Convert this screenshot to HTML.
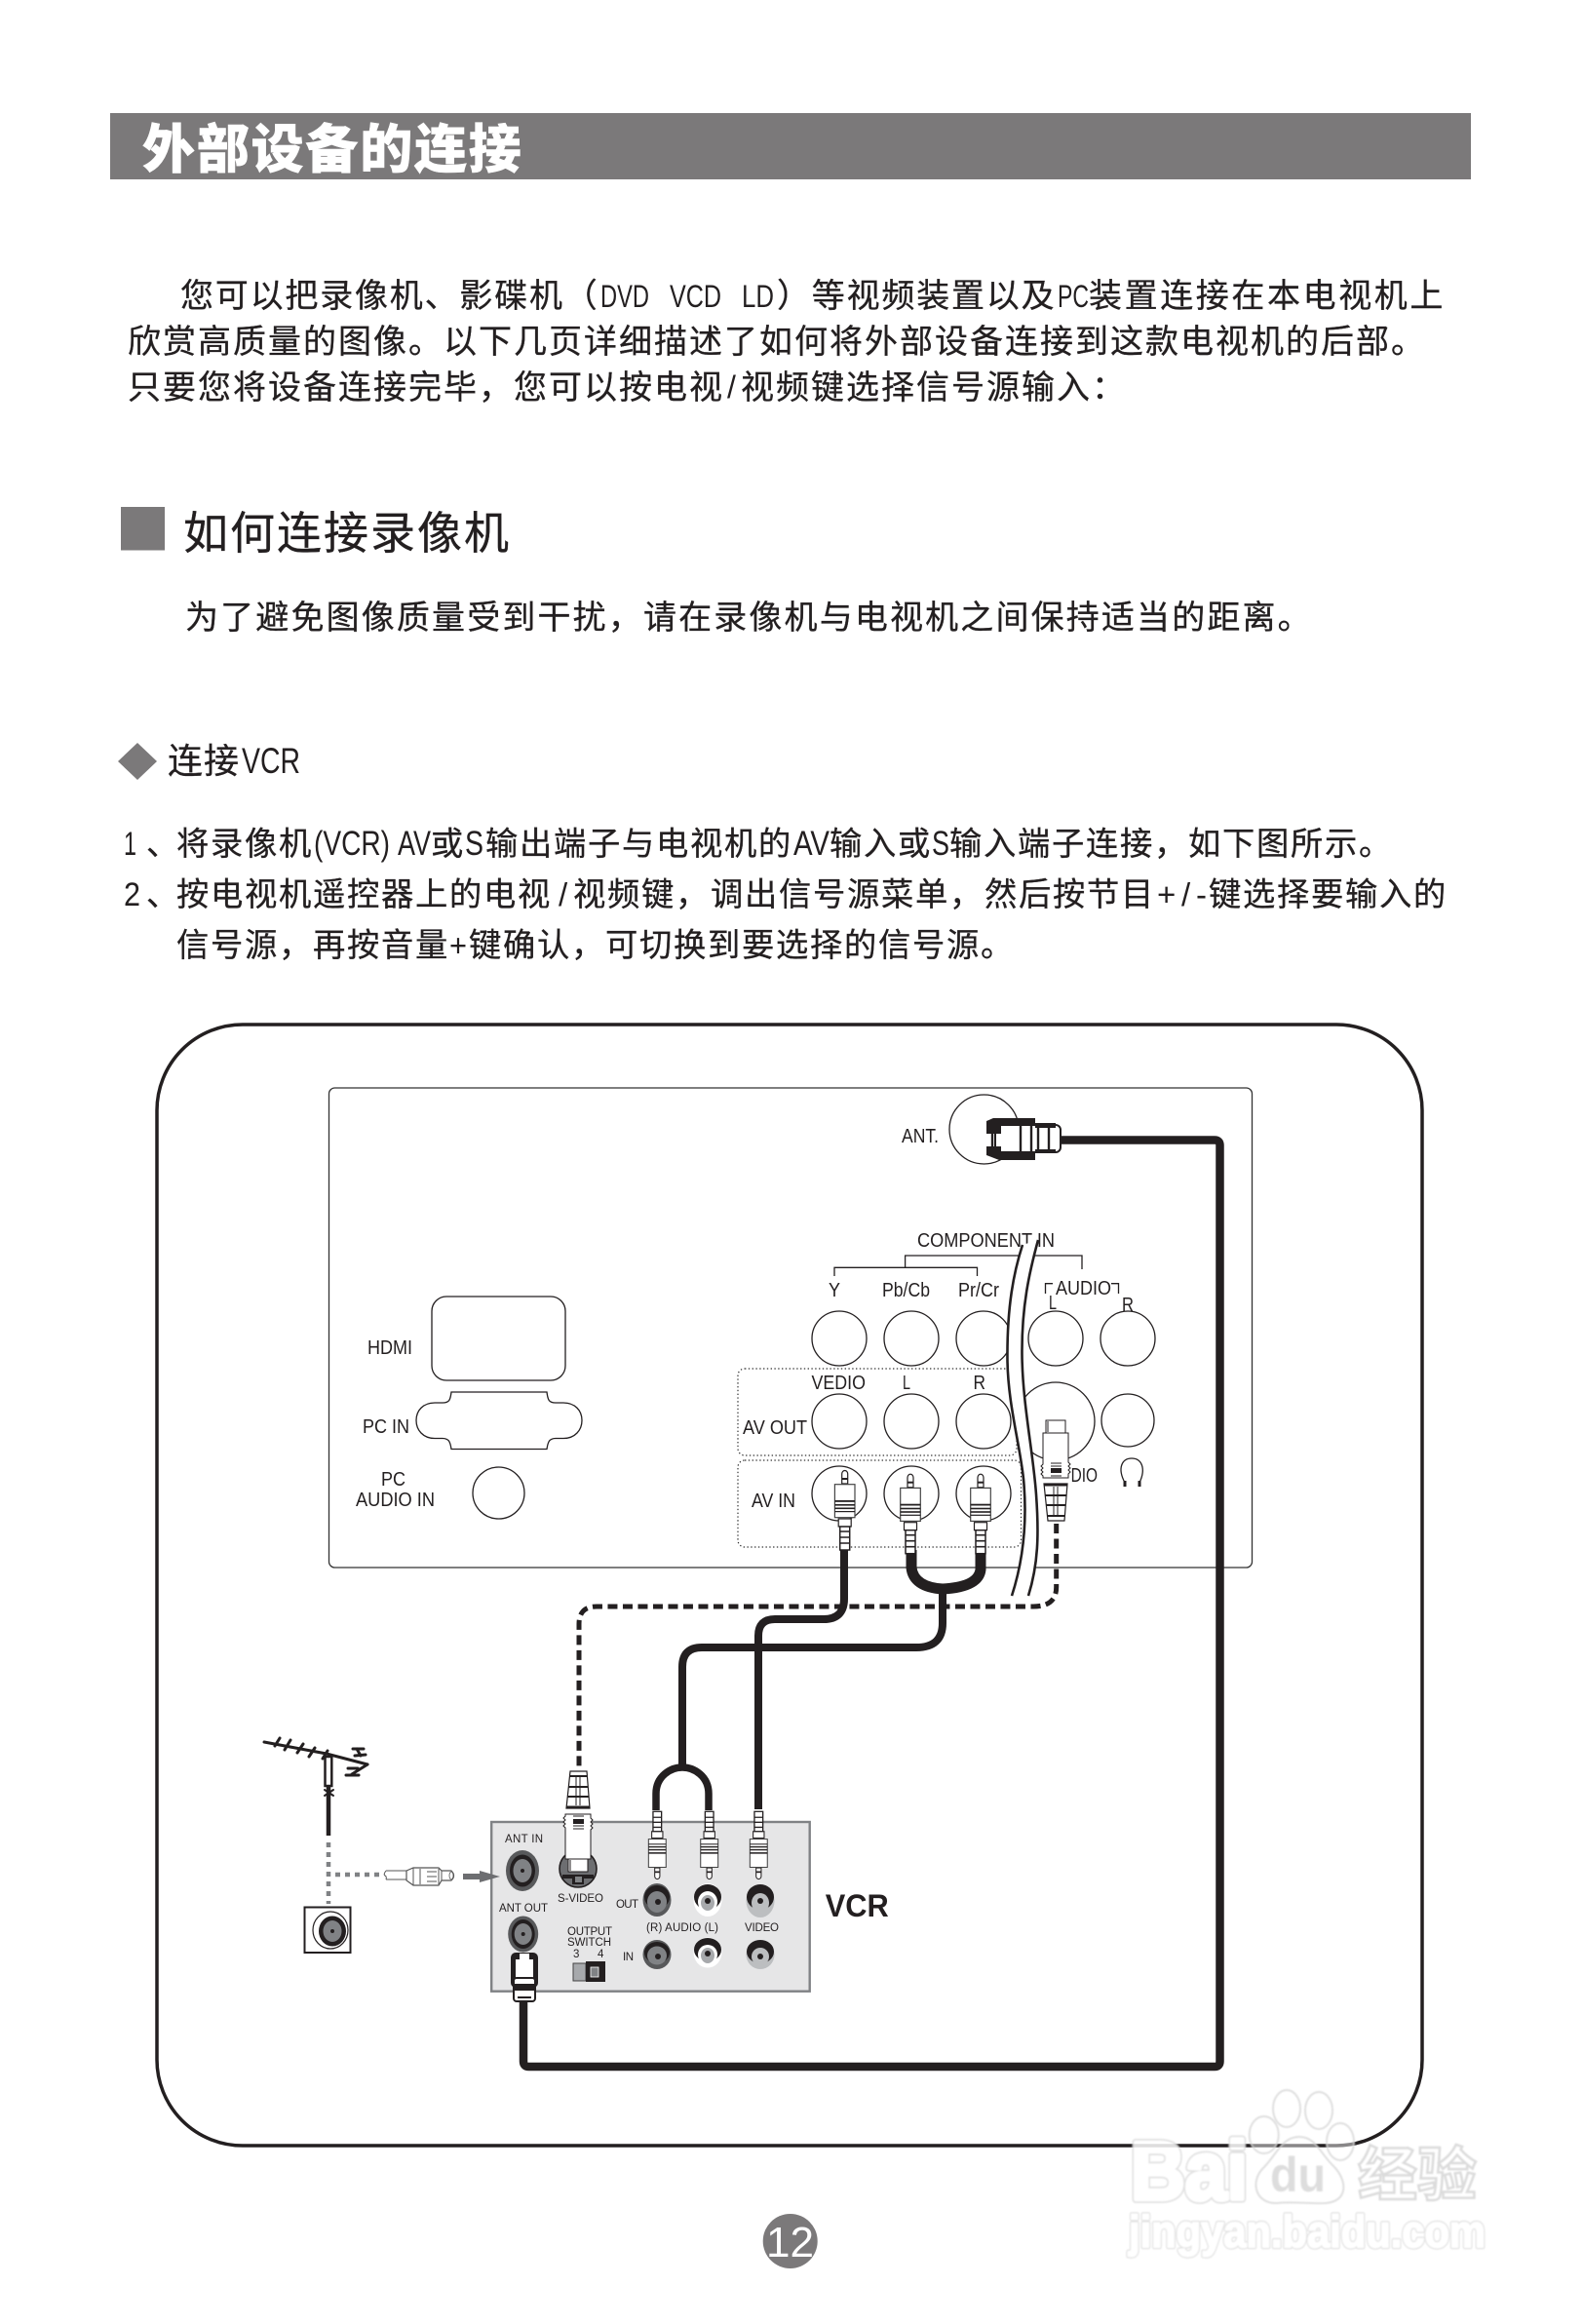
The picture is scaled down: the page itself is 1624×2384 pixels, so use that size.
<!DOCTYPE html>
<html lang="zh-CN"><head><meta charset="utf-8"><title>外部设备的连接</title>
<style>
html,body{margin:0;padding:0;background:#fff}
svg{display:block}
.c{font-family:"Liberation Sans","Noto Sans CJK SC",sans-serif;fill:#231f20;stroke:#231f20;stroke-width:.3px}
.b{font-size:34px;letter-spacing:1.8px}
.l{font-size:33.3px;letter-spacing:1.7px}
.a{font-family:"Liberation Sans",sans-serif;fill:#231f20}
.t{font-size:20px}
.v{font-size:11.5px}
.w{fill:none;stroke:#231f20;stroke-width:1.3}
</style></head><body>
<svg xmlns="http://www.w3.org/2000/svg" width="1624" height="2384" viewBox="0 0 1624 2384">
<defs>
<filter id="soft" x="-5%" y="-5%" width="110%" height="110%"><feGaussianBlur stdDeviation=".7"/></filter>
<g id="rca">
<path d="M-3,14V4a3,3.5 0 0 1 6,0V14Z" fill="#fff" stroke="#231f20" stroke-width="1.2"/>
<rect x="-3" y="8" width="6" height="2" fill="#231f20"/>
<rect x="-10.3" y="14.7" width="20.6" height="34" fill="#fff" stroke="#444" stroke-width="1.2"/>
<rect x="-10.3" y="31" width="20.6" height="1.8" fill="#231f20"/><rect x="-10.3" y="35" width="20.6" height="1.6" fill="#231f20"/><rect x="-10.3" y="38.5" width="20.6" height="1.6" fill="#231f20"/><rect x="-10.3" y="42" width="20.6" height="1.2" fill="#231f20"/>
<rect x="-6.5" y="50" width="13" height="8" fill="#fff" stroke="#231f20" stroke-width="1.2"/>
<rect x="-5" y="58" width="10" height="24" fill="#fff" stroke="#231f20" stroke-width="1.5"/>
<path d="M-5,63H5M-5,69H5M-5,75H5" stroke="#231f20" stroke-width="1.6"/>
</g>
<g id="splug">
<rect x="-10" y="0" width="20" height="13" fill="#fff" stroke="#231f20" stroke-width="1"/>
<path d="M-8,1V12" stroke="#231f20" stroke-width="1"/>
<path d="M-13,13H13V43l2,2-2,2 2,2-2,2 2,2-2,2 0,4H-13V57l-2-2 2-2-2-2 2-2-2-2 2-2Z" fill="#fff" stroke="#231f20" stroke-width="1"/>
<path d="M-5,44H6M-5,47H6" stroke="#231f20" stroke-width="1"/><rect x="-5" y="49" width="11" height="5" fill="#231f20"/><path d="M-5,57H6" stroke="#231f20" stroke-width="1"/>
<path d="M-12,65H12L9,103H-8Z" fill="#fff" stroke="#231f20" stroke-width="1.2"/>
<path d="M-12,65H12L11.7,67.5H-11.7ZM-11,76H11L10.8,78H-10.9ZM-10,86H10L9.9,88H-9.9ZM-9,97H9.2L9,99H-8.6Z" fill="#231f20"/>
<path d="M-2,68V76M2,68V76M-2,78V86M2,78V86M-2,88V97M2,88V97" stroke="#231f20" stroke-width="1"/>
</g>
</defs>

<!-- header -->
<rect x="113" y="116" width="1396" height="68" fill="#7b797a"/>
<text x="146" y="172" font-size="54" font-weight="900" letter-spacing="1.8" stroke="#fff" stroke-width=".5" style="font-family:'Noto Sans CJK SC',sans-serif;fill:#fff">外部设备的连接</text>

<!-- intro -->
<text class="c b" x="185" y="315">您可以把录像机、影碟机（</text>
<text class="a" x="616" y="315" font-size="32" textLength="50" lengthAdjust="spacingAndGlyphs">DVD</text>
<text class="a" x="687" y="315" font-size="32" textLength="53" lengthAdjust="spacingAndGlyphs">VCD</text>
<text class="a" x="761" y="315" font-size="32" textLength="33" lengthAdjust="spacingAndGlyphs">LD</text>
<text class="c b" x="797" y="315">）等视频装置以及</text>
<text class="a" x="1085" y="315" font-size="32" textLength="32" lengthAdjust="spacingAndGlyphs">PC</text>
<text class="c b" x="1117" y="315" style="letter-spacing:2.6px">装置连接在本电视机上</text>
<text class="c b" x="131" y="362" style="letter-spacing:2px">欣赏高质量的图像。以下几页详细描述了如何将外部设备连接到这款电视机的后部。</text>
<text class="c b" x="131" y="409" style="letter-spacing:2px">只要您将设备连接完毕，您可以按电视</text>
<text class="a" x="746" y="408" font-size="32">/</text>
<text class="c b" x="760" y="409" style="letter-spacing:2px">视频键选择信号源输入：</text>

<!-- section -->
<rect x="124" y="520" width="45" height="44.5" fill="#7b797a"/>
<text class="c" x="188" y="563" font-size="46" letter-spacing="2">如何连接录像机</text>
<text class="c b" x="190" y="645" style="letter-spacing:2.15px">为了避免图像质量受到干扰，请在录像机与电视机之间保持适当的距离。</text>

<polygon points="141,762 161,781 141,800 121,781" fill="#7b797a"/>
<text class="c" x="172" y="793" font-size="36" letter-spacing="1">连接</text>
<text class="a" x="248" y="793" font-size="37" textLength="60" lengthAdjust="spacingAndGlyphs">VCR</text>

<!-- list -->
<text class="a" x="127" y="877" font-size="34" textLength="13" lengthAdjust="spacingAndGlyphs">1</text>
<text class="c l" x="150" y="877">、</text>
<text class="c l" x="181" y="877">将录像机</text>
<text class="a" x="322" y="877" font-size="35" textLength="78" lengthAdjust="spacingAndGlyphs">(VCR)</text>
<text class="a" x="408" y="877" font-size="35" textLength="34" lengthAdjust="spacingAndGlyphs">AV</text>
<text class="c l" x="442" y="877">或</text>
<text class="a" x="477" y="877" font-size="35" textLength="19" lengthAdjust="spacingAndGlyphs">S</text>
<text class="c l" x="498" y="877">输出端子与电视机的</text>
<text class="a" x="814" y="877" font-size="35" textLength="37" lengthAdjust="spacingAndGlyphs">AV</text>
<text class="c l" x="851" y="877">输入或</text>
<text class="a" x="956" y="877" font-size="35" textLength="18" lengthAdjust="spacingAndGlyphs">S</text>
<text class="c l" x="974" y="877">输入端子连接，如下图所示。</text>

<text class="a" x="127" y="929" font-size="34" textLength="17" lengthAdjust="spacingAndGlyphs">2</text>
<text class="c l" x="150" y="929">、</text>
<text class="c l" x="181" y="929">按电视机遥控器上的电视</text>
<text class="a" x="573" y="929" font-size="33">/</text>
<text class="c l" x="588" y="929">视频键，</text>
<text class="c l" x="729" y="929">调出信号源菜单，</text>
<text class="c l" x="1010" y="929">然后按节目</text>
<text class="a" x="1187" y="929" font-size="33" textLength="51" lengthAdjust="spacing">+/-</text>
<text class="c l" x="1240" y="929">键选择要输入的</text>

<text class="c l" x="181" y="981">信号源，再按音量</text>
<text class="a" x="461" y="981" font-size="32" textLength="18" lengthAdjust="spacingAndGlyphs">+</text>
<text class="c l" x="481" y="981">键确认，可切换到要选择的信号源。</text>

<!-- diagram frame -->
<rect x="161" y="1051" width="1298" height="1150" rx="88" ry="88" fill="#fff" stroke="#231f20" stroke-width="3.5"/>

<!-- TV panel -->
<rect x="337.5" y="1116" width="947" height="492" rx="6" fill="#fff" stroke="#333" stroke-width="1.3"/>
<rect x="443" y="1330" width="137" height="86" rx="15" class="w"/>
<path class="w" d="M463,1428H561C562,1436 563,1439 570,1439H578C590,1439 597,1447 597,1457C597,1467 590,1475.5 578,1475.5H570C563,1475.5 562,1480 561,1486.5H463C462,1480 461,1475.5 454,1475.5H446C434,1475.5 427,1467 427,1457C427,1447 434,1439 446,1439H454C461,1439 462,1436 463,1428Z"/>
<circle class="w" cx="511.5" cy="1531.5" r="26.5"/>
<text class="a t" x="377" y="1389" textLength="46" lengthAdjust="spacingAndGlyphs">HDMI</text>
<text class="a t" x="372" y="1470" textLength="48" lengthAdjust="spacingAndGlyphs">PC IN</text>
<text class="a t" x="391" y="1524" textLength="25" lengthAdjust="spacingAndGlyphs">PC</text>
<text class="a t" x="365" y="1545" textLength="81" lengthAdjust="spacingAndGlyphs">AUDIO IN</text>

<!-- dotted groups -->
<rect x="757" y="1404" width="286" height="89" rx="7" fill="none" stroke="#333" stroke-width="1.2" stroke-dasharray="1.4 2.4"/>
<rect x="757" y="1498" width="290.5" height="89" rx="7" fill="none" stroke="#333" stroke-width="1.2" stroke-dasharray="1.4 2.4"/>

<circle class="w" cx="1009.5" cy="1158.5" r="35.5"/>
<text class="a t" x="925" y="1172" textLength="38" lengthAdjust="spacingAndGlyphs">ANT.</text>
<text class="a t" x="941" y="1279" textLength="141" lengthAdjust="spacingAndGlyphs">COMPONENT IN</text>
<path class="w" d="M928.6,1300V1288H1110V1302M856,1309V1300.3H1002.5V1309"/>
<text class="a t" x="850" y="1330" textLength="12" lengthAdjust="spacingAndGlyphs">Y</text>
<text class="a t" x="905" y="1330" textLength="49" lengthAdjust="spacingAndGlyphs">Pb/Cb</text>
<text class="a t" x="983" y="1330" textLength="42" lengthAdjust="spacingAndGlyphs">Pr/Cr</text>
<text class="a t" x="1083" y="1328" textLength="57" lengthAdjust="spacingAndGlyphs">AUDIO</text>
<path class="w" d="M1072.5,1327V1316.7H1080M1140,1316.7H1147.5V1327"/>
<text class="a t" x="1076" y="1343" textLength="8" lengthAdjust="spacingAndGlyphs">L</text>
<text class="a t" x="1151" y="1345" textLength="12" lengthAdjust="spacingAndGlyphs">R</text>
<text class="a t" x="832.5" y="1425" textLength="55.5" lengthAdjust="spacingAndGlyphs">VEDIO</text>
<text class="a t" x="926" y="1425" textLength="8" lengthAdjust="spacingAndGlyphs">L</text>
<text class="a t" x="998.5" y="1425" textLength="12.5" lengthAdjust="spacingAndGlyphs">R</text>
<text class="a t" x="762" y="1471" textLength="66" lengthAdjust="spacingAndGlyphs">AV OUT</text>
<text class="a t" x="771" y="1546" textLength="45" lengthAdjust="spacingAndGlyphs">AV IN</text>
<text class="a t" x="1098.6" y="1520" textLength="27.4" lengthAdjust="spacingAndGlyphs">DIO</text>

<!-- ports -->
<g class="w" fill="none">
<circle class="w" cx="861" cy="1373" r="28"/><circle class="w" cx="935" cy="1373" r="28"/><circle class="w" cx="1009" cy="1373" r="28"/><circle class="w" cx="1083" cy="1373" r="28"/><circle class="w" cx="1157" cy="1373" r="28"/>
<circle class="w" cx="861" cy="1458" r="28"/><circle class="w" cx="935" cy="1458" r="28"/><circle class="w" cx="1009" cy="1458" r="28"/>
<circle class="w" cx="1083" cy="1458" r="40"/><circle class="w" cx="1157" cy="1457" r="27"/>
<circle class="w" cx="861" cy="1532" r="28"/><circle class="w" cx="935" cy="1532" r="28"/><circle class="w" cx="1009" cy="1532" r="28"/>
</g>
<path class="w" d="M1154,1521C1146,1506 1151,1496 1161,1496C1171,1496 1176,1506 1169,1521"/>
<rect x="1152.5" y="1519" width="3" height="6" fill="#231f20"/><rect x="1167.5" y="1519" width="3" height="6" fill="#231f20"/>

<!-- break band -->
<path d="M1049,1277C1040,1305 1033,1340 1033.5,1395C1034,1440 1046,1480 1050,1517C1054,1560 1050,1600 1038,1637L1055,1637C1065,1605 1066,1575 1063,1533C1060,1490 1049,1440 1048.5,1390C1048,1340 1056,1305 1065,1272Z" fill="#fff"/>
<path d="M1049,1277C1040,1305 1033,1340 1033.5,1395C1034,1440 1046,1480 1050,1517C1054,1560 1050,1600 1038,1637" fill="none" stroke="#231f20" stroke-width="2.6"/>
<path d="M1065,1272C1056,1305 1048,1340 1048.5,1390C1049,1440 1060,1490 1063,1533C1066,1575 1065,1605 1055,1637" fill="none" stroke="#231f20" stroke-width="2.6"/>

<!-- cables -->
<path d="M1089,1169.5H1246Q1251.5,1169.5 1251.5,1175V2114.5Q1251.5,2120 1246,2120H542.5Q537,2120 537,2114.5V2045" fill="none" stroke="#231f20" stroke-width="8.5"/>
<path d="M1083.7,1563V1628Q1083.7,1648 1060,1648H612Q594,1648 594,1666V1816" fill="none" stroke="#231f20" stroke-width="5" stroke-dasharray="10 5.5"/>
<path d="M866,1590V1640Q866,1661 845,1661H795Q778,1661 778,1678V1856" fill="none" stroke="#231f20" stroke-width="8"/>
<path d="M935,1590V1608Q937,1628 967,1630Q1004,1628 1006,1610V1590" fill="none" stroke="#231f20" stroke-width="11"/>
<path d="M967,1630V1665Q967,1690 940,1690H720Q700,1690 700,1710V1815" fill="none" stroke="#231f20" stroke-width="8"/>
<path d="M673,1857V1840C673,1822 688,1813 700,1813C712,1813 727,1822 727,1840V1857" fill="none" stroke="#231f20" stroke-width="7.5"/>

<!-- TV plugs -->
<use href="#rca" transform="translate(866.7,1508)"/>
<use href="#rca" transform="translate(934,1511.7)"/>
<use href="#rca" transform="translate(1006,1511.7)"/>
<use href="#splug" transform="translate(1083,1457)"/>

<!-- ANT plug -->
<rect x="1021" y="1154" width="67" height="28" rx="5" fill="#fff" stroke="#231f20" stroke-width="2"/>
<path d="M1012,1150L1019,1147H1062V1155H1027V1163H1012ZM1012,1176H1027V1182H1062V1190H1025L1012,1185Z" fill="#231f20"/>
<path d="M1062,1152H1083V1157H1062ZM1062,1179H1083V1183H1062Z" fill="#231f20"/>
<path d="M1018,1160V1179M1047,1155V1183M1058,1155V1183M1065,1155V1183M1076,1155V1183" stroke="#231f20" stroke-width="2.4"/>

<!-- antenna -->
<g stroke="#231f20" fill="none" stroke-linecap="round">
<path d="M271,1787L335,1799L377,1810" stroke-width="3"/>
<path d="M287,1783L282,1791M298,1785L292,1795M311,1789L305,1798M323,1793L317,1802M336,1796L331,1804" stroke-width="3"/>
<path d="M362,1794H373M366,1794L370,1801M364,1801L375,1800M377,1810L361,1820M355,1821H368M357,1814H367" stroke-width="3"/>
<rect x="333.5" y="1802" width="6.8" height="30" stroke-width="2.5" fill="#fff"/>
<path d="M337,1832V1883" stroke-width="4.5" stroke-linecap="butt"/>
<path d="M333,1836L342,1842M342,1836L333,1842" stroke-width="2"/>
<path d="M337,1890V1953" stroke="#808285" stroke-width="4.5" stroke-dasharray="5 5" stroke-linecap="butt"/>
<path d="M344,1923H390" stroke="#808285" stroke-width="4.5" stroke-dasharray="5 5" stroke-linecap="butt"/>
</g>
<rect x="312.5" y="1956.5" width="47" height="46.5" fill="#fff" stroke="#231f20" stroke-width="2"/>
<ellipse cx="339" cy="1980" rx="18" ry="19" fill="none" stroke="#231f20" stroke-width="1.2"/>
<ellipse cx="341" cy="1981" rx="14" ry="15.5" fill="#231f20"/>
<ellipse cx="341" cy="1981" rx="9.5" ry="11" fill="#808285"/>
<circle cx="341" cy="1981" r="2" fill="#231f20"/>

<!-- coax plug -->
<path d="M396,1919H417M396,1928H417M396,1919Q393,1923 395,1924T396,1928" fill="none" stroke="#555" stroke-width="1"/>
<path d="M417,1919L424,1916H450L453,1919H463Q468,1924 463,1929H453L450,1934H424L417,1929Z" fill="#fff" stroke="#555" stroke-width="1.2"/>
<path d="M424,1916V1934M431,1917V1933M438,1920H448M438,1925H448M438,1930H448M450,1917V1933M453,1919V1929" stroke="#555" stroke-width="1" fill="none"/>
<ellipse cx="463" cy="1924" rx="2" ry="4" fill="none" stroke="#555" stroke-width=".8"/>

<!-- VCR -->
<rect x="504.2" y="1869" width="326.5" height="173.7" fill="#e6e6e7" stroke="#808285" stroke-width="2.4"/>
<path d="M475,1922H492V1919L513,1925L492,1931V1928H475Z" fill="#6d6e71"/>
<text class="a v" x="518" y="1890" textLength="39" lengthAdjust="spacing">ANT IN</text>
<text class="a v" x="512" y="1961" textLength="50" lengthAdjust="spacing">ANT OUT</text>
<text class="a v" x="572" y="1951" textLength="47" lengthAdjust="spacing">S-VIDEO</text>
<text class="a v" x="632" y="1957" textLength="23" lengthAdjust="spacing">OUT</text>
<text class="a v" x="663" y="1981" textLength="74" lengthAdjust="spacing">(R) AUDIO (L)</text>
<text class="a v" x="764" y="1981" textLength="35" lengthAdjust="spacing">VIDEO</text>
<text class="a v" x="582" y="1985" textLength="46" lengthAdjust="spacing">OUTPUT</text>
<text class="a v" x="582" y="1996" textLength="45" lengthAdjust="spacing">SWITCH</text>
<text class="a v" x="588" y="2008">3</text><text class="a v" x="613" y="2008">4</text>
<text class="a v" x="639" y="2011" textLength="11" lengthAdjust="spacing">IN</text>

<ellipse cx="536" cy="1919" rx="17" ry="21" fill="#58595b"/><ellipse cx="536" cy="1919" rx="13" ry="16.5" fill="#231f20"/><ellipse cx="536" cy="1919" rx="9.5" ry="12" fill="#808285"/><circle cx="536" cy="1919" r="2" fill="#231f20"/>
<ellipse cx="536.7" cy="1984" rx="15.5" ry="18.5" fill="#58595b"/><ellipse cx="536.7" cy="1984" rx="12" ry="15" fill="#231f20"/><ellipse cx="536.7" cy="1984" rx="9" ry="11" fill="#808285"/><circle cx="536.7" cy="1984" r="2" fill="#231f20"/>

<!-- S socket -->
<circle cx="593" cy="1917" r="19" fill="#6d6e71" stroke="#231f20" stroke-width="1.6"/>
<path d="M577,1923H609V1927H599V1933H587V1927H577Z" fill="#231f20"/><rect x="590" y="1925" width="7" height="6" fill="#808285"/>
<use href="#splug" transform="translate(593,1920) scale(1,-1)"/>
<use href="#rca" transform="translate(674.3,1928) scale(.87,-.85)"/>
<use href="#rca" transform="translate(727.7,1928) scale(.87,-.85)"/>
<use href="#rca" transform="translate(778.3,1928) scale(.87,-.85)"/>

<!-- jacks -->
<g>
<g transform="translate(0,-3)">
<ellipse cx="674" cy="1952" rx="14.5" ry="17" fill="#58595b"/><ellipse cx="674" cy="1949" rx="13" ry="12" fill="#231f20"/><ellipse cx="674" cy="1954" rx="10" ry="11" fill="#808285"/><circle cx="675" cy="1954" r="3" fill="#231f20"/>
<ellipse cx="726" cy="1952" rx="14.5" ry="17" fill="#fff"/><ellipse cx="726" cy="1949" rx="14" ry="13" fill="#231f20"/><ellipse cx="726" cy="1954" rx="10" ry="11" fill="#fff"/><ellipse cx="726" cy="1955" rx="7" ry="8" fill="#a7a9ac"/><circle cx="726" cy="1953" r="3" fill="#231f20"/>
<ellipse cx="780" cy="1953" rx="14.5" ry="17" fill="#bcbec0"/><ellipse cx="780" cy="1949" rx="14" ry="13" fill="#231f20"/><ellipse cx="780" cy="1955" rx="9" ry="10" fill="#bcbec0"/><circle cx="780" cy="1953" r="3" fill="#231f20"/>
</g>
<ellipse cx="674" cy="2005" rx="14.5" ry="15" fill="#58595b"/><ellipse cx="674" cy="2003" rx="13" ry="11" fill="#231f20"/><ellipse cx="674" cy="2006" rx="10" ry="9.5" fill="#808285"/><circle cx="675" cy="2007" r="3" fill="#231f20"/>
<ellipse cx="726" cy="2003" rx="14.5" ry="15.5" fill="#fff"/><ellipse cx="726" cy="2000" rx="14" ry="12" fill="#231f20"/><ellipse cx="726" cy="2005" rx="10" ry="10" fill="#fff"/><ellipse cx="726" cy="2006" rx="7" ry="8" fill="#a7a9ac"/><circle cx="726" cy="2004" r="3" fill="#231f20"/>
<ellipse cx="780" cy="2005" rx="14.5" ry="15" fill="#bcbec0"/><ellipse cx="780" cy="2002" rx="14" ry="12" fill="#231f20"/><ellipse cx="780" cy="2007" rx="9" ry="9" fill="#bcbec0"/><circle cx="780" cy="2007" r="3" fill="#231f20"/>
</g>

<!-- switch -->
<rect x="588" y="2014" width="13" height="18" fill="#a7a9ac" stroke="#444" stroke-width="1"/>
<rect x="601" y="2012" width="20" height="21" fill="#231f20"/>
<rect x="606" y="2018" width="8" height="10" fill="#808285" stroke="#fff" stroke-width=".8"/>

<!-- ANT OUT plug -->
<rect x="524" y="2003" width="28" height="36" rx="5" fill="#231f20"/>
<path d="M533,2004H543V2010H547V2030H529V2010H533Z" fill="#fff"/>
<rect x="527" y="2029" width="22" height="24" rx="3" fill="#fff" stroke="#231f20" stroke-width="2"/>
<rect x="526" y="2035" width="24" height="7" fill="#231f20"/><rect x="531" y="2048" width="14" height="2" fill="#231f20"/>

<text x="846.7" y="1966" font-size="32" font-weight="700" class="a" textLength="65" lengthAdjust="spacingAndGlyphs">VCR</text>

<!-- page number -->
<circle cx="810.7" cy="2299" r="28" fill="#7b797a"/>
<text x="786" y="2315" font-size="44" class="a" style="fill:#fff" textLength="49" lengthAdjust="spacingAndGlyphs">12</text>

<!-- watermark -->
<g opacity=".85" filter="url(#soft)" font-weight="700">
<g fill="#fff" fill-opacity=".55" stroke="#d9d9d9" stroke-width="2">
<ellipse cx="1296.7" cy="2190" rx="15" ry="19"/><ellipse cx="1320" cy="2163" rx="14" ry="19"/><ellipse cx="1353" cy="2165" rx="14" ry="19"/><ellipse cx="1375" cy="2197" rx="14" ry="19"/>
<path d="M1333,2192C1350,2192 1355,2210 1368,2222C1382,2236 1384,2258 1360,2260C1345,2261 1325,2258 1310,2260C1288,2261 1282,2238 1296,2224C1310,2210 1315,2192 1333,2192Z"/>
</g>
<g style="font-family:'Liberation Sans',sans-serif" fill="#fff" stroke="#dcdcdc" stroke-linejoin="round">
<text x="1160" y="2256" font-size="84" stroke-width="8" textLength="120" lengthAdjust="spacingAndGlyphs">Bai</text>
<text x="1158" y="2305" font-size="46" stroke-width="4.5" textLength="366" lengthAdjust="spacingAndGlyphs">jingyan.baidu.com</text>
</g>
<g style="font-family:'Liberation Sans',sans-serif" fill="#fff" stroke="#fff" stroke-linejoin="round">
<text x="1160" y="2256" font-size="84" stroke-width="4.5" textLength="120" lengthAdjust="spacingAndGlyphs">Bai</text>
<text x="1158" y="2305" font-size="46" stroke-width="2" textLength="366" lengthAdjust="spacingAndGlyphs">jingyan.baidu.com</text>
</g>
<text x="1393" y="2252" font-size="60" fill="#fff" stroke="#d6d6d6" stroke-width="2.5" style="font-family:'Noto Sans CJK SC',sans-serif" textLength="122" lengthAdjust="spacingAndGlyphs">经验</text>
<text x="1303" y="2248" font-size="50" fill="#d8d8d8" style="font-family:'Liberation Sans',sans-serif" textLength="57" lengthAdjust="spacingAndGlyphs">du</text>
</g>
</svg>
</body></html>
